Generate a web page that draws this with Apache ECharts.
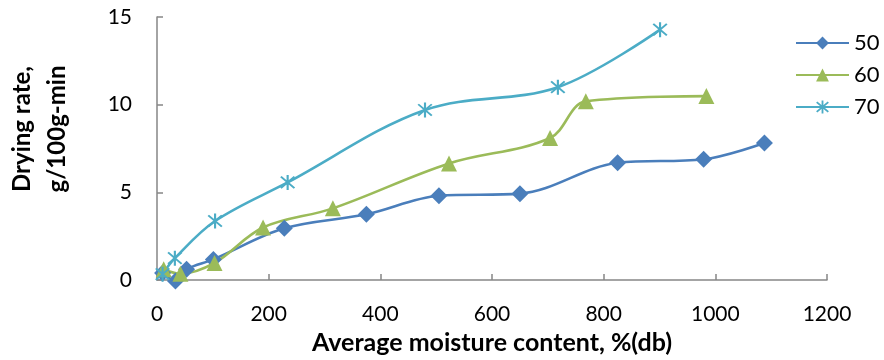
<!DOCTYPE html>
<html>
<head>
<meta charset="utf-8">
<script src="https://cdn.jsdelivr.net/npm/echarts@6/dist/echarts.min.js"></script>
<style>
html,body{margin:0;padding:0;background:#fff;}
#c{width:884px;height:360px;}
</style>
</head>
<body>
<div id="c"></div>
<script>
// Data: [average moisture content %(db), drying rate g/100g-min]
const seriesNames = ['50', '60', '70'];
const data50 = [[10, 0.4], [33, -0.05], [53, 0.62], [101, 1.18], [228, 2.95], [375, 3.75], [505, 4.81], [650, 4.93], [825, 6.69], [979, 6.89], [1088, 7.82]];
const data60 = [[12, 0.62], [42, 0.36], [103, 0.98], [190, 3.0], [315, 4.09], [523, 6.65], [704, 8.1], [768, 10.19], [984, 10.49]];
const data70 = [[10, 0.34], [32, 1.25], [104, 3.37], [234, 5.57], [480, 9.7], [718, 11.0], [901, 14.28]];
const xTicks = [0, 200, 400, 600, 800, 1000, 1200];
const yTicks = [0, 5, 10, 15];

const colors = ['#4A7EBB', '#9BBB59', '#4BACC6'];
const starPath = 'path://M4.4 0 L5.6 0 L5.6 10 L4.4 10 Z M0.8 1.6 L1.6 0.8 L9.2 8.4 L8.4 9.2 Z M8.4 0.8 L9.2 1.6 L1.6 9.2 L0.8 8.4 Z';
const FONT = 'Lato, "Open Sans", sans-serif';

const chart = echarts.init(document.getElementById('c'), null, {renderer: 'canvas'});
const axisLine = {show: true, lineStyle: {color: '#868686', width: 1.5}};
const axisTick = {show: true, inside: true, length: 6, lineStyle: {color: '#868686', width: 1.5}};

function mkSeries(name, data, color, symbol, size) {
  return {
    name: name,
    type: 'line',
    data: data,
    smooth: 0.35,
    clip: false,
    symbol: symbol,
    symbolSize: size,
    showAllSymbol: true,
    lineStyle: {color: color, width: 2.6},
    itemStyle: {color: color, borderWidth: 0},
    emphasis: {disabled: true},
    z: 2
  };
}

chart.setOption({
  animation: false,
  backgroundColor: '#ffffff',
  textStyle: {fontFamily: FONT},
  grid: {left: 157, right: 57, top: 17, bottom: 78, containLabel: false},
  legend: {
    orient: 'vertical',
    left: 790,
    top: 27,
    padding: 5,
    itemWidth: 53,
    itemHeight: 16,
    itemGap: 10,
    textStyle: {fontSize: 22, color: '#000', fontFamily: FONT},
    data: seriesNames
  },
  xAxis: {
    type: 'value',
    min: xTicks[0],
    max: xTicks[xTicks.length - 1],
    interval: xTicks[1] - xTicks[0],
    splitLine: {show: false},
    axisLine: axisLine,
    axisTick: axisTick,
    axisLabel: {fontSize: 21, color: '#000', margin: 24, fontFamily: FONT, formatter: function (v) { return String(v); }},
    name: 'Average moisture content, %(db)',
    nameLocation: 'middle',
    nameGap: 46,
    nameTextStyle: {fontSize: 25, fontWeight: 'bold', color: '#000', fontFamily: FONT}
  },
  yAxis: {
    type: 'value',
    min: yTicks[0],
    max: yTicks[yTicks.length - 1],
    interval: yTicks[1] - yTicks[0],
    splitLine: {show: false},
    axisLine: axisLine,
    axisTick: axisTick,
    axisLabel: {fontSize: 21, color: '#000', margin: 25, fontFamily: FONT}
  },
  graphic: [{
    type: 'text',
    x: 40,
    y: 129,
    rotation: Math.PI / 2,
    style: {
      text: 'Drying rate,\ng/100g-min',
      fill: '#000',
      font: 'bold 24px ' + FONT,
      align: 'center',
      verticalAlign: 'middle',
      lineHeight: 35
    }
  }],
  series: [
    mkSeries(seriesNames[0], data50, colors[0], 'diamond', 17),
    mkSeries(seriesNames[1], data60, colors[1], 'triangle', 16),
    mkSeries(seriesNames[2], data70, colors[2], starPath, 15)
  ]
});
</script>
</body>
</html>
